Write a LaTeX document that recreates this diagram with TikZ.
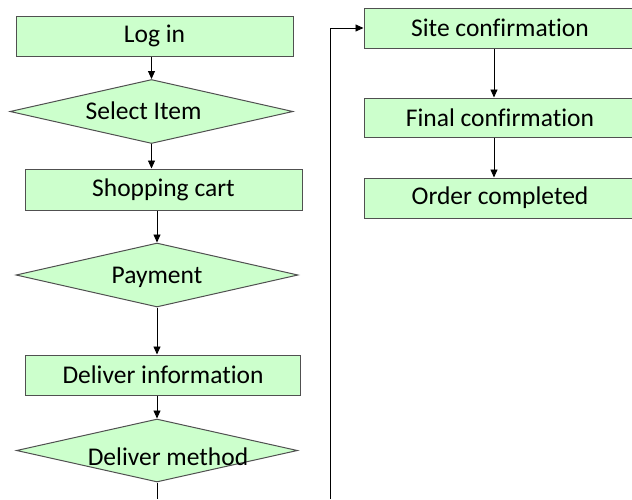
\documentclass[tikz,border=0pt]{standalone}
\usepackage{fontspec}
\setmainfont{Carlito}[Ligatures=NoCommon]
\usepackage{tikz}
\usetikzlibrary{arrows.meta,calc,shapes.geometric}
\definecolor{FlowGreen}{RGB}{204,255,204}
\definecolor{FlowEdge}{RGB}{80,80,80}
% text inside a diamond, kept from sizing the shape
\newcommand{\choicetext}[2][0pt]{\makebox[0pt]{\hspace*{#1}\raisebox{-8pt}[0pt][0pt]{#2}}}

\begin{document}
\begin{tikzpicture}[x=1pt,y=-1pt,
  stepbox/.style={draw=FlowEdge,fill=FlowGreen,line width=1pt,inner sep=0pt,
    minimum height=40pt,font=\fontsize{25.5}{30}\selectfont},
  choice/.style={diamond,draw=FlowEdge,fill=FlowGreen,line width=1pt,inner sep=0pt,
    minimum height=64pt,font=\fontsize{25.5}{30}\selectfont},
  arr/.style={-{Triangle[length=8pt,width=7pt]},line width=0.9pt}]
\useasboundingbox (0,0) rectangle (632,499);
% left column
\node[stepbox,minimum width=277pt] (login) at (154.5,36) {Log in};
\node[choice,minimum width=283pt] (select) at (151.5,111.5) {\choicetext{Select Item\hspace*{16pt}}};
\node[stepbox,minimum width=277pt,minimum height=41pt] (cart) at (163.5,189.5) {Shopping cart};
\node[choice,minimum width=282pt] (pay) at (157,275) {\choicetext{Payment}};
\node[stepbox,minimum width=275pt] (info) at (163,375) {Deliver information};
\node[choice,minimum width=281pt,minimum height=63pt] (method) at (157,450.5)
  {\choicetext[22pt]{\raisebox{-7pt}{Deliver method}}};
% right column
\node[stepbox,minimum width=272pt] (site) at (500,28) {Site confirmation};
\node[stepbox,minimum width=272pt,minimum height=39pt] (final) at (500,117.5) {Final confirmation};
\node[stepbox,minimum width=272pt] (done) at (500,198) {Order completed};
\coordinate (down) at (157,499);
\coordinate (loop) at (330,499);

\draw[arr] (login.south -| select.north) -- (select.north);
\draw[arr] (select.south) -- (cart.north -| select.south);
\draw[arr] (cart.south -| pay.north) -- (pay.north);
\draw[arr] (pay.south) -- (info.north -| pay.south);
\draw[arr] (info.south -| method.north) -- (method.north);
\draw[line width=0.9pt] (method.south) -- (down);
\draw[arr] (loop) |- (site.west);
\draw[arr] (site.south -| 494,0) -- (final.north -| 494,0);
\draw[arr] (final.south -| 494,0) -- (done.north -| 494,0);
\end{tikzpicture}
\end{document}
